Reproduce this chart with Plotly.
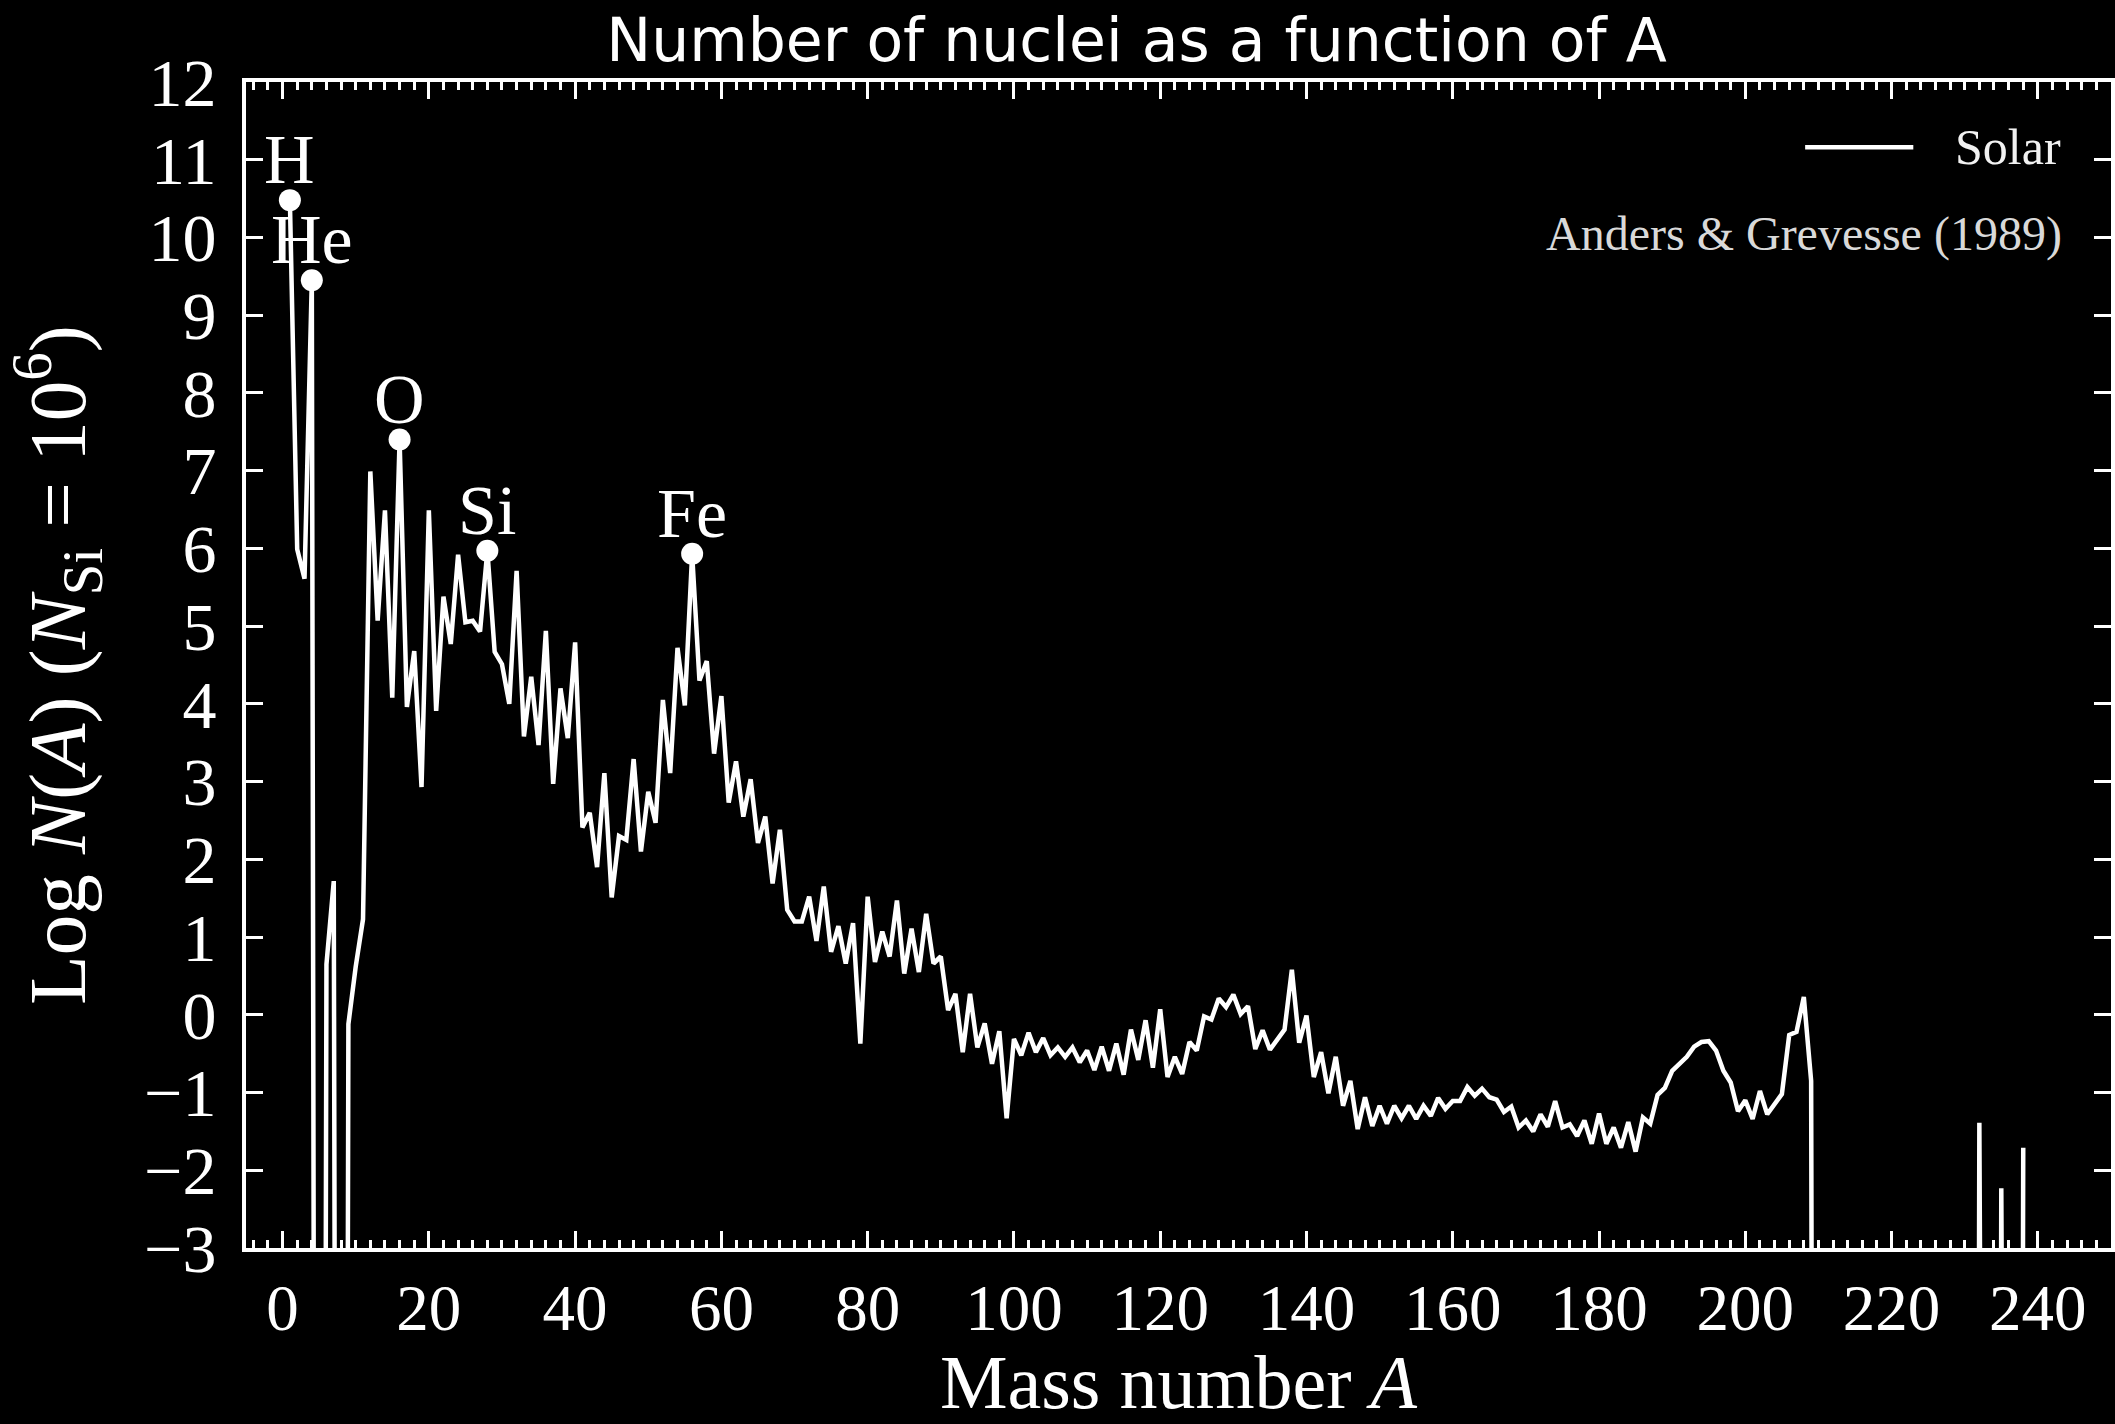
import plotly.graph_objects as go

# Solar-system abundances summed over isobars (Anders & Grevesse 1989),
# log10 of the number of nuclei per mass number, normalised to N(Si) = 1e6.
# None marks mass numbers with no stable nuclide (zero abundance).
mass_number = list(range(1, 239))
log_n = [
    10.48, 5.99, 5.61, 9.45, None, 0.65, 1.72, None, -0.12, 0.62,
    1.23, 6.99, 5.07, 6.49, 4.08, 7.40, 3.96, 4.68, 2.93, 6.49,
    3.91, 5.38, 4.77, 5.92, 5.05, 5.07, 4.93, 5.97, 4.67, 4.51,
    4.00, 5.71, 3.58, 4.35, 3.47, 4.94, 2.97, 4.20, 3.56, 4.79,
    2.41, 2.60, 1.90, 3.11, 1.51, 2.30, 2.25, 3.29, 2.10, 2.87,
    2.47, 4.05, 3.11, 4.72, 3.98, 5.93, 4.30, 4.55, 3.36, 4.10,
    2.73, 3.26, 2.55, 3.03, 2.21, 2.55, 1.69, 2.38, 1.35, 1.20,
    1.20, 1.52, 0.95, 1.65, 0.81, 1.14, 0.66, 1.18, -0.37, 1.52,
    0.68, 1.07, 0.75, 1.47, 0.53, 1.11, 0.55, 1.30, 0.66, 0.75,
    0.06, 0.27, -0.48, 0.27, -0.42, -0.11, -0.63, -0.21, -1.33, -0.31,
    -0.52, -0.23, -0.48, -0.30, -0.52, -0.42, -0.54, -0.42, -0.61, -0.46,
    -0.71, -0.41, -0.72, -0.37, -0.77, -0.19, -0.58, -0.07, -0.68, 0.07,
    -0.80, -0.54, -0.76, -0.35, -0.46, -0.02, -0.06, 0.21, 0.10, 0.26,
    0.01, 0.11, -0.44, -0.20, -0.45, -0.32, -0.19, 0.58, -0.36, -0.01,
    -0.80, -0.48, -1.01, -0.54, -1.17, -0.85, -1.47, -1.06, -1.43, -1.17,
    -1.40, -1.17, -1.33, -1.17, -1.34, -1.17, -1.30, -1.07, -1.21, -1.11,
    -1.11, -0.93, -1.04, -0.95, -1.06, -1.09, -1.25, -1.18, -1.45, -1.36,
    -1.50, -1.28, -1.44, -1.11, -1.45, -1.41, -1.56, -1.36, -1.66, -1.27,
    -1.66, -1.45, -1.71, -1.38, -1.76, -1.32, -1.40, -1.03, -0.94, -0.72,
    -0.62, -0.54, -0.41, -0.35, -0.34, -0.46, -0.72, -0.87, -1.24, -1.10,
    -1.34, -0.98, -1.28, -1.16, -1.02, -0.26, -0.22, 0.23, -0.85, None,
    None, None, None, None, None, None, None, None, None, None,
    None, None, None, None, None, None, None, None, None, None,
    None, -1.39, None, None, -2.23, None, None, -1.71,
]

# Labelled abundance peaks
peak_elements = ["H", "He", "O", "Si", "Fe"]
peak_mass = [1, 4, 16, 28, 56]

# log10(0): drawn far below the axis so the curve plunges off the bottom
LOG_ZERO = -40.0
log_plot = [LOG_ZERO if v is None else v for v in log_n]

SERIF = "Liberation Serif"
FG = "white"

fig = go.Figure()

fig.add_trace(go.Scatter(
    x=mass_number, y=log_plot, mode="lines", name="Solar",
    line=dict(color=FG, width=4.5), showlegend=False,
))

peak_y = [log_plot[m - 1] for m in peak_mass]
fig.add_trace(go.Scatter(
    x=peak_mass, y=peak_y, mode="markers",
    marker=dict(color=FG, size=22, line=dict(width=0)),
    showlegend=False, hoverinfo="skip",
))

for el, m, yv in zip(peak_elements, peak_mass, peak_y):
    fig.add_annotation(
        x=m, y=yv, xref="x", yref="y", text=el, showarrow=False,
        yanchor="bottom", xanchor="center", yshift=0,
        font=dict(family=SERIF, size=70, color=FG),
    )

# Legend entry and data source note, top right
fig.add_shape(
    type="line", xref="paper", yref="paper",
    x0=0.836, x1=0.894, y0=0.944, y1=0.944,
    line=dict(color=FG, width=4.5),
)
fig.add_annotation(
    x=0.974, y=0.944, xref="paper", yref="paper", text="Solar",
    showarrow=False, xanchor="right", yanchor="middle",
    font=dict(family=SERIF, size=50, color="#f2f2f2"),
)
fig.add_annotation(
    x=0.975, y=0.870, xref="paper", yref="paper",
    text="Anders &amp; Grevesse (1989)",
    showarrow=False, xanchor="right", yanchor="middle",
    font=dict(family=SERIF, size=48, color="#d9d9d9"),
)

axis_common = dict(
    showgrid=False, zeroline=False, showline=True, linecolor=FG,
    linewidth=4, mirror="allticks", ticks="inside", tickcolor=FG,
    ticklen=17, tickwidth=3, automargin=False,
)

fig.update_xaxes(
    range=[-5, 250], tick0=0, dtick=20,
    minor=dict(dtick=2, ticks="inside", ticklen=8, tickwidth=3, tickcolor=FG),
    tickfont=dict(family=SERIF, size=65, color=FG),
    title=dict(text="Mass number <i>A</i>", standoff=36,
               font=dict(family=SERIF, size=76, color=FG)),
    **axis_common,
)
fig.update_yaxes(
    range=[-3, 12], tick0=0, dtick=1,
    tickfont=dict(family=SERIF, size=68, color=FG),
    ticklabelstandoff=12,
    title=dict(text="Log <i>N</i>(<i>A</i>) (<i>N</i><sub>Si</sub> = 10<sup>6</sup>)",
               standoff=34, font=dict(family=SERIF, size=81, color=FG)),
    **axis_common,
)

fig.update_layout(
    width=2115, height=1424,
    margin=dict(l=246, r=4, t=82, b=176),
    paper_bgcolor="black", plot_bgcolor="black",
    title=dict(text="Number of nuclei as a function of A",
               x=0.4775, xref="paper", xanchor="center",
               y=1 - 40 / 1424, yref="container", yanchor="middle",
               font=dict(family="DejaVu Sans", size=60, color=FG)),
    showlegend=False,
)

fig.write_html("out.html")
